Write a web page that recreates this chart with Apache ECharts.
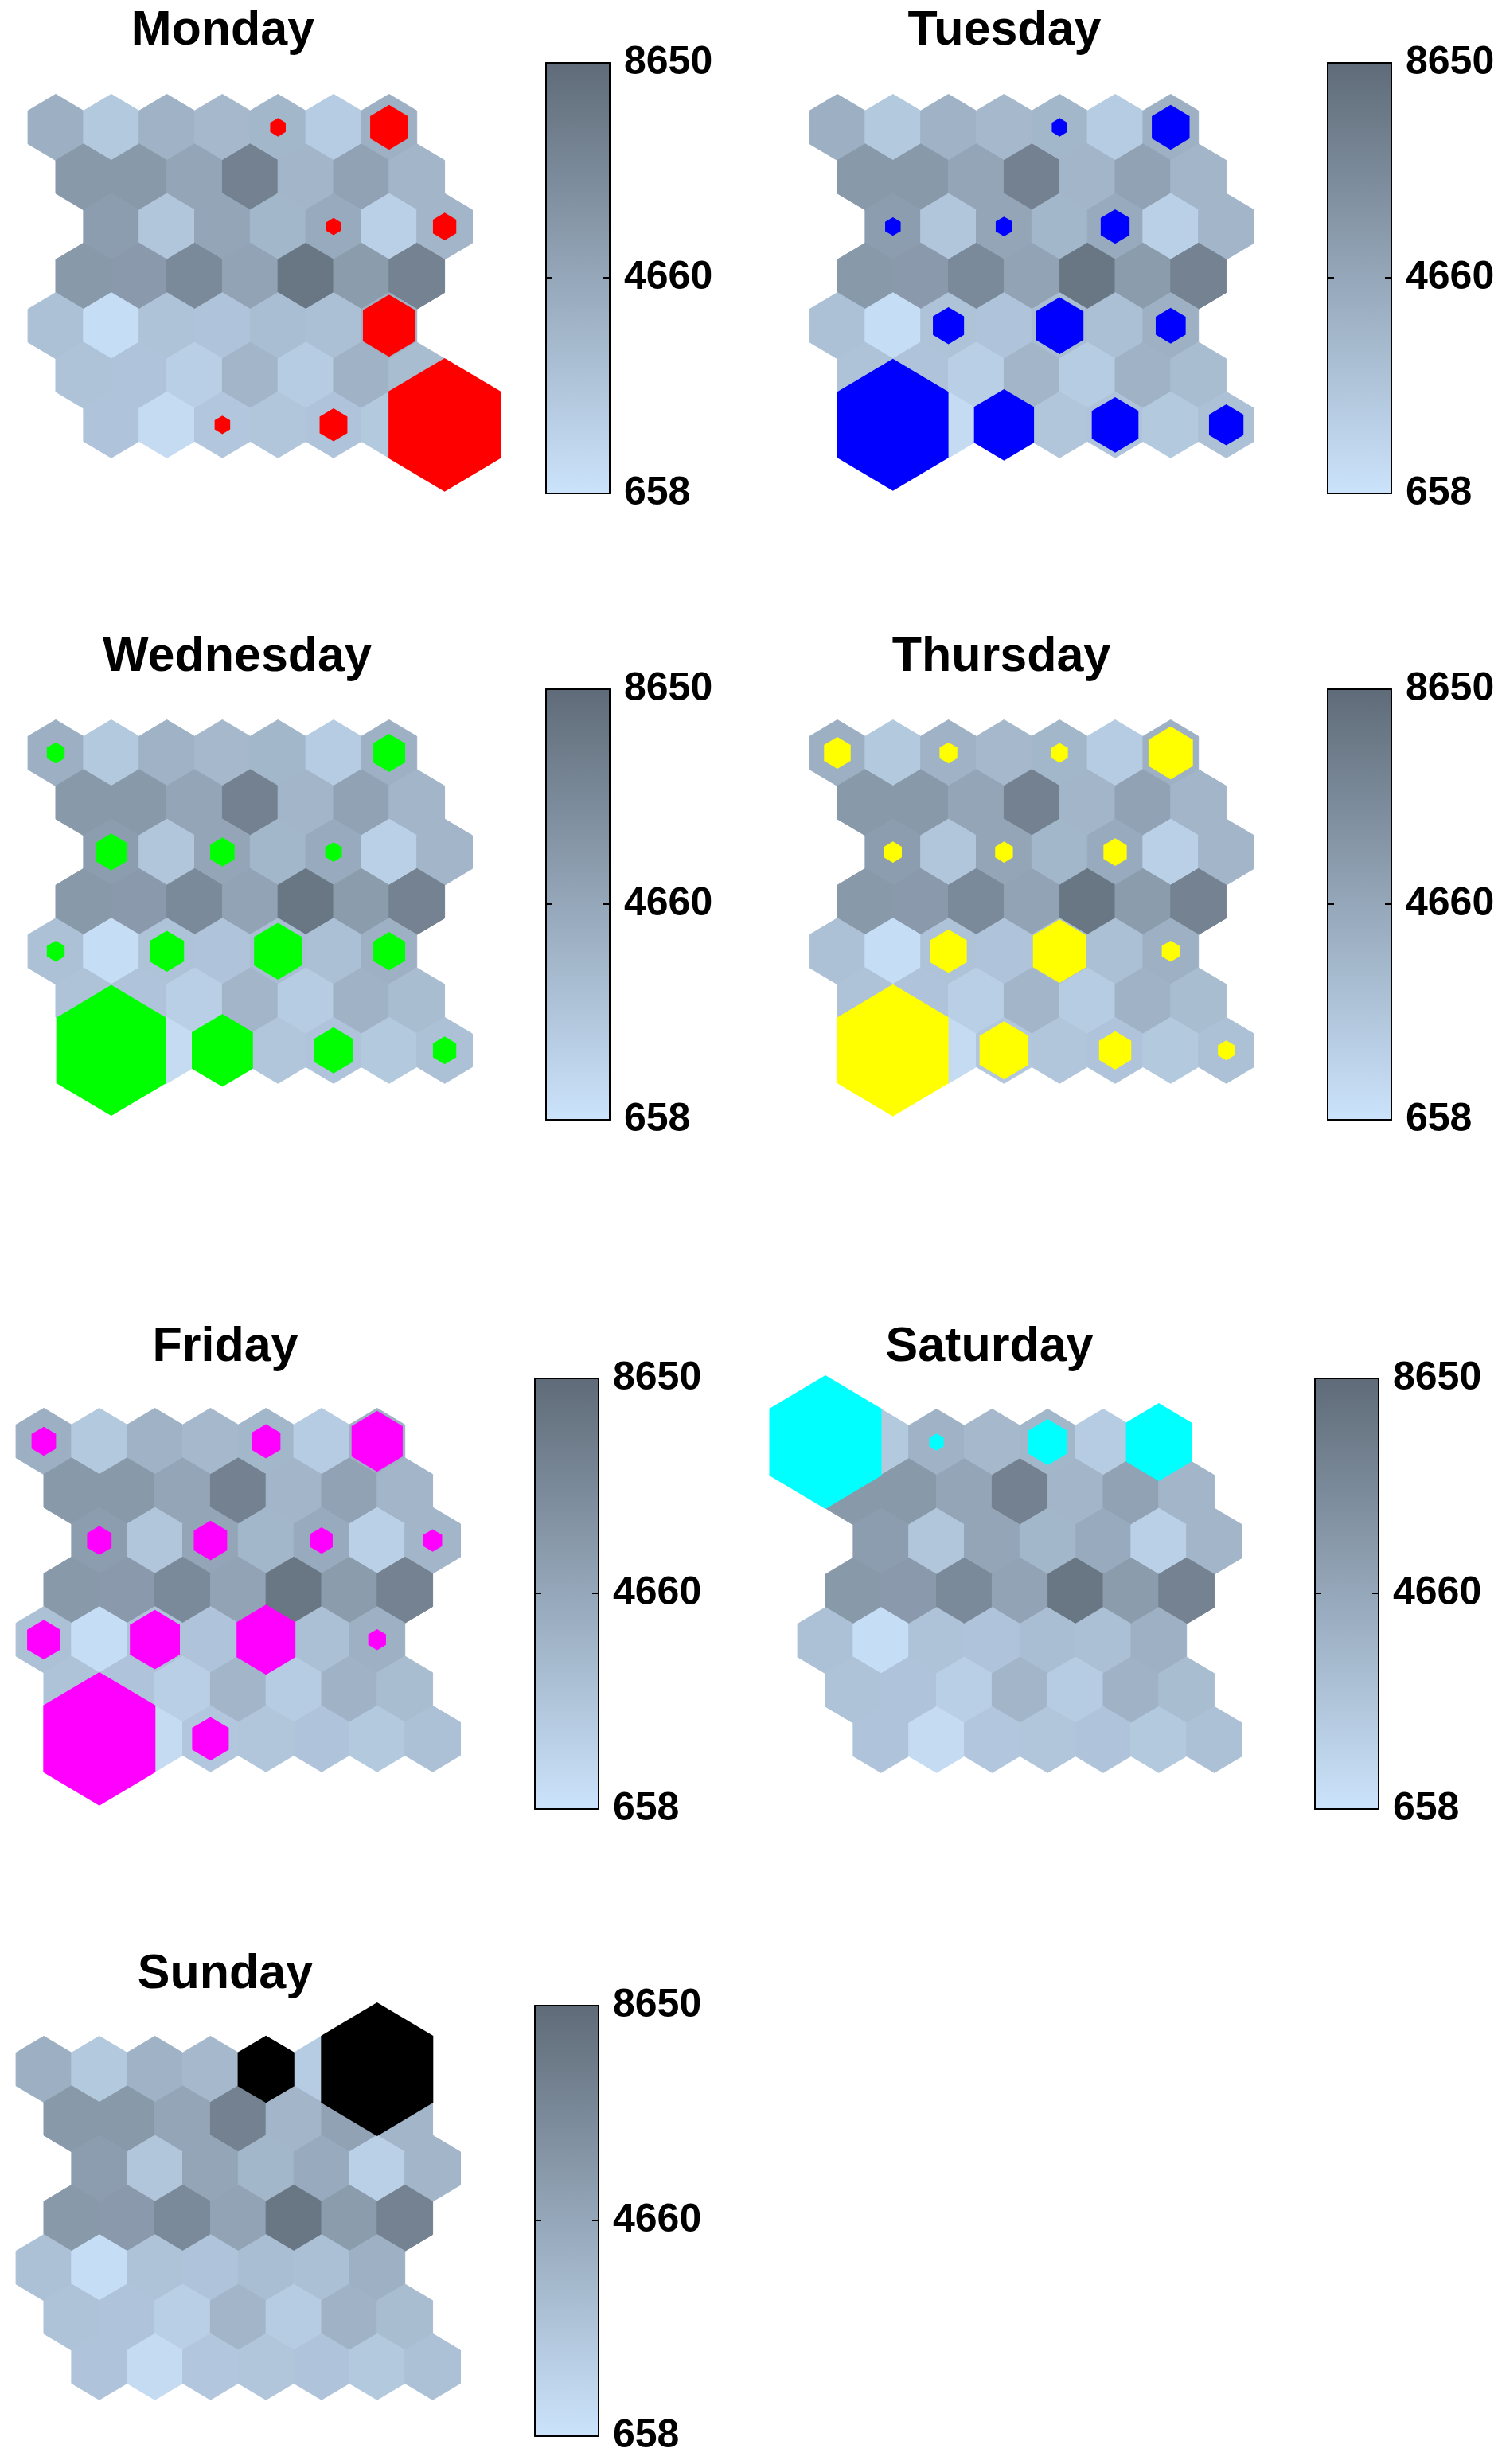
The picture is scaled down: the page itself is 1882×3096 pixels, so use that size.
<!DOCTYPE html>
<html>
<head>
<meta charset="utf-8">
<title>Hits by weekday</title>
<script src="https://cdn.jsdelivr.net/npm/echarts@6/dist/echarts.min.js"></script>
<style>
html, body { margin: 0; padding: 0; background: #fff; }
#main { width: 1882px; height: 3096px; }
</style>
</head>
<body>
<div id="main"></div>
<script>
// one map per weekday
var days = ['Monday', 'Tuesday', 'Wednesday', 'Thursday', 'Friday', 'Saturday', 'Sunday'];

// horizontal shift of each map row, in cells
var rowShift = [0, 0.5, 1, 0.5, 0, 0.5, 1];

// component plane value of each unit, row by row (same plane under every day)
var planeRows = [
  [4100, 2400, 3900, 3500, 3600, 2200, 4000],
  [5600, 5600, 4800, 7200, 3700, 5000, 3700],
  [5300, 2600, 4800, 3600, 4400, 1900, 3700],
  [5600, 5500, 6600, 4900, 7900, 5400, 7100],
  [2900, 1000, 2800, 2700, 3100, 3000, 4000],
  [2800, 2700, 2000, 3700, 2200, 3900, 3200],
  [2700, 1200, 2500, 2600, 2700, 2400, 2900]
];
var planeMin = 658;
var planeMax = 8650;
var barLabels = [658, 4660, 8650];
var barTick = [4660];

// hits on the map: [row, col, hits]
var mondayHits = [[0, 4, 14], [0, 6, 34], [2, 4, 13], [2, 6, 21], [4, 6, 47], [6, 2, 14], [6, 4, 25], [6, 6, 101]];
var tuesdayHits = [[0, 4, 14], [0, 6, 34], [2, 0, 14], [2, 2, 15], [2, 4, 26], [4, 2, 28], [4, 4, 43], [4, 6, 27], [6, 0, 100], [6, 2, 54], [6, 4, 42], [6, 6, 31]];
var wednesdayHits = [[0, 0, 16], [0, 6, 29], [2, 0, 28], [2, 2, 22], [2, 4, 15], [4, 0, 16], [4, 2, 31], [4, 4, 43], [4, 6, 29], [6, 0, 99], [6, 2, 55], [6, 4, 35], [6, 6, 21]];
var thursdayHits = [[0, 0, 24], [0, 2, 16], [0, 4, 15], [0, 6, 40], [2, 0, 16], [2, 2, 16], [2, 4, 21], [4, 2, 33], [4, 4, 48], [4, 6, 16], [6, 0, 100], [6, 2, 44], [6, 4, 29], [6, 6, 15]];
var fridayHits = [[0, 0, 22], [0, 4, 26], [0, 6, 46], [2, 0, 22], [2, 2, 30], [2, 4, 20], [2, 6, 17], [4, 0, 30], [4, 2, 45], [4, 4, 53], [4, 6, 16], [6, 0, 101], [6, 2, 33]];
var saturdayHits = [[0, 0, 101], [0, 2, 13], [0, 4, 35], [0, 6, 59]];
var sundayHits = [[0, 4, 51], [0, 6, 101]];
var hitsByDay = [mondayHits, tuesdayHits, wednesdayHits, thursdayHits, fridayHits, saturdayHits, sundayHits];

// styles
var hitColors = ['#ff0000', '#0000ff', '#00ff00', '#ffff00', '#ff00ff', '#00ffff', '#000000'];
var lowColor = '#cbe3fb';
var highColor = '#5f6b78';
var font = '"Liberation Sans", Arial, Helvetica, sans-serif';
var hitUnit = 50;      // hits that make a hexagon as big as a unit
var cellW = 69.8, rowH = 62.3, barW = 80, barH = 541;

// placement: first unit centre, title centre/baseline, colorbar corner
var panels = [
  {cx: 70, cy: 160, tx: 275, ty: 56, bx: 686, by: 79},
  {cx: 1052, cy: 160, tx: 1257, ty: 56, bx: 1668, by: 79},
  {cx: 70, cy: 946, tx: 293, ty: 843, bx: 686, by: 866},
  {cx: 1052, cy: 946, tx: 1253, ty: 843, bx: 1668, by: 866},
  {cx: 55, cy: 1811, tx: 278, ty: 1710, bx: 672, by: 1732},
  {cx: 1037, cy: 1812, tx: 1238, ty: 1710, bx: 1652, by: 1732},
  {cx: 55, cy: 2600, tx: 278, ty: 2498, bx: 672, by: 2520}
];

var planeData = [];
planeRows.forEach(function (row, r) {
  row.forEach(function (v, c) {
    planeData.push([c + rowShift[r], r, v]);
  });
});

function hexagon(cx, cy, hw, r) {
  return [[cx, cy - r], [cx + hw, cy - r / 2], [cx + hw, cy + r / 2],
          [cx, cy + r], [cx - hw, cy + r / 2], [cx - hw, cy - r / 2]];
}

function hexItem(scaled) {
  return function (params, api) {
    var c = api.coord([api.value(0), api.value(1)]);
    var sz = api.size([1, 1]);
    var k = scaled ? api.value(2) / hitUnit : 1;
    var color = api.visual('color');
    return {
      type: 'polygon',
      shape: { points: hexagon(c[0], c[1], Math.abs(sz[0]) / 2 * k, Math.abs(sz[1]) / 1.5 * k) },
      style: { fill: color, stroke: scaled ? null : color, lineWidth: 1 }
    };
  };
}

var grids = [], xAxes = [], yAxes = [], titles = [];
var baseSeries = [], hitSeries = [], barSeries = [];
var hidden = { show: false };

panels.forEach(function (p, i) {
  titles.push({
    text: days[i], left: p.tx, top: p.ty - 52, textAlign: 'center',
    textStyle: { fontSize: 61, fontWeight: 'bold', color: '#000', fontFamily: font }
  });

  // map grid, x from -0.5 to 8.5 units, y from -1 to 7 rows
  var g = grids.length;
  grids.push({ left: p.cx - cellW / 2, top: p.cy - rowH, width: cellW * 9, height: rowH * 8 });
  var xi = xAxes.length, yi = yAxes.length;
  xAxes.push({ gridIndex: g, type: 'value', min: -0.5, max: 8.5, show: false });
  yAxes.push({ gridIndex: g, type: 'value', min: -1, max: 7, inverse: true, show: false });
  baseSeries.push({
    type: 'custom', xAxisIndex: xi, yAxisIndex: yi, clip: false, silent: true,
    renderItem: hexItem(false), encode: { x: 0, y: 1 }, data: planeData
  });
  hitSeries.push({
    type: 'custom', xAxisIndex: xi, yAxisIndex: yi, clip: false, silent: true, z: 3,
    itemStyle: { color: hitColors[i] },
    renderItem: hexItem(true), encode: { x: 0, y: 1 },
    data: hitsByDay[i].map(function (h) { return [h[1] + rowShift[h[0]], h[0], h[2]]; })
  });

  // colorbar grid
  var bg = grids.length;
  grids.push({ left: p.bx, top: p.by, width: barW, height: barH });
  var edge = { show: true, onZero: false, lineStyle: { color: '#000', width: 2 } };
  var bxi = xAxes.length;
  ['bottom', 'top'].forEach(function (pos) {
    xAxes.push({ gridIndex: bg, type: 'value', min: 0, max: 1, position: pos, z: 5,
      axisLine: edge, axisTick: hidden, axisLabel: hidden, splitLine: hidden });
  });
  var byi = yAxes.length;
  yAxes.push({
    gridIndex: bg, type: 'value', min: planeMin, max: planeMax, position: 'right', z: 5,
    axisLine: edge, splitLine: hidden,
    axisTick: { show: true, inside: true, length: 8, customValues: barTick, lineStyle: { color: '#000', width: 2 } },
    axisLabel: { show: true, customValues: barLabels, margin: 18, color: '#000', fontSize: 50,
      fontWeight: 'bold', fontFamily: font, padding: [0, 0, 14, 0],
      formatter: function (v) { return String(v); } }
  });
  yAxes.push({
    gridIndex: bg, type: 'value', min: planeMin, max: planeMax, position: 'left', z: 5,
    axisLine: edge, splitLine: hidden, axisLabel: hidden,
    axisTick: { show: true, inside: true, length: 8, customValues: barTick, lineStyle: { color: '#000', width: 2 } }
  });
  barSeries.push({
    type: 'custom', xAxisIndex: bxi, yAxisIndex: byi, silent: true, z: 1,
    data: [[0, planeMin, 1, planeMax]],
    renderItem: function (params, api) {
      var a = api.coord([api.value(0), api.value(3)]);
      var b = api.coord([api.value(2), api.value(1)]);
      return {
        type: 'rect',
        shape: { x: a[0], y: a[1], width: b[0] - a[0], height: b[1] - a[1] },
        style: { fill: { type: 'linear', x: 0, y: 0, x2: 0, y2: 1,
          colorStops: [{ offset: 0, color: highColor }, { offset: 1, color: lowColor }] } }
      };
    }
  });
});

var option = {
  animation: false,
  backgroundColor: '#fff',
  title: titles,
  grid: grids,
  xAxis: xAxes,
  yAxis: yAxes,
  visualMap: {
    show: false, type: 'continuous', dimension: 2,
    min: planeMin, max: planeMax,
    seriesIndex: [0, 1, 2, 3, 4, 5, 6],
    inRange: { color: [lowColor, highColor] }
  },
  series: baseSeries.concat(hitSeries, barSeries)
};

echarts.init(document.getElementById('main')).setOption(option);
</script>
</body>
</html>
